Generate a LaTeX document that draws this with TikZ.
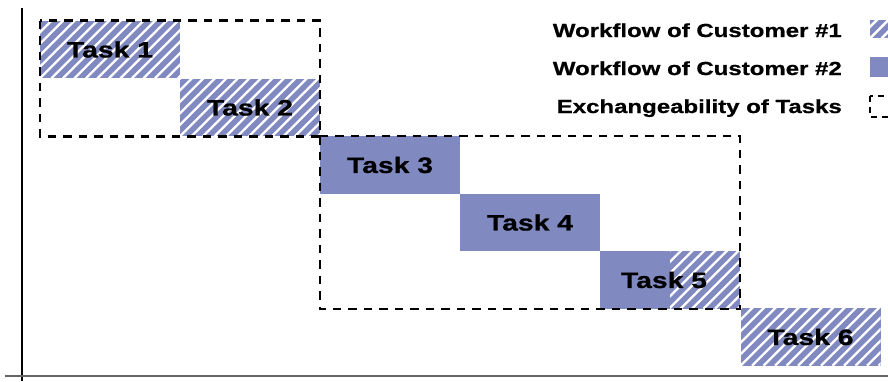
\documentclass[tikz,border=0pt]{standalone}
\usepackage{fontspec}
\setmainfont{Liberation Sans}[FakeStretch=1.27,BoldFeatures={FakeBold=0.8}]
\definecolor{taskblue}{RGB}{129,138,192}
\definecolor{axisgray}{RGB}{100,100,100}
% white diagonal stripes over the current path
\newcommand\stripesover{%
  \foreach \k in {-92,-80.5,...,160}{%
    \draw[white,line width=2.4pt]
      ([xshift=\k pt]path picture bounding box.south west) -- ++(90pt,90pt);}}
\tikzset{
  labelfont/.style={font=\bfseries\fontsize{22.3}{26}\selectfont},
  taskbox/.style={rectangle,minimum width=140pt,minimum height=57.5pt,
    inner sep=0pt,fill=taskblue,labelfont},
  hatched/.style={taskbox,path picture={\stripesover}},
  halfhatched/.style={taskbox,path picture={%
    \begin{scope}
      \clip (path picture bounding box.north) rectangle
            (path picture bounding box.south east);
      \stripesover
    \end{scope}}},
  dashbox/.style={draw=black,line width=2.2pt,dash pattern=on 8.5pt off 7pt},
  legendtext/.style={anchor=base east,inner sep=0pt,
    font=\bfseries\fontsize{18.9}{22}\selectfont},
}
\begin{document}
\begin{tikzpicture}[x=1pt,y=-1pt]
  \useasboundingbox (0,0) rectangle (888,381);

  % axes
  \draw[black,line width=1.4pt] (22,8) coordinate (ytop) -- (22,381) coordinate (ybot);
  \draw[axisgray,line width=2pt] (5,376) coordinate (xl) -- (888,376) coordinate (xr);

  % tasks
  \node[hatched]     (t1) at (110,49.5)  {Task 1};
  \node[hatched]     (t2) at (250,107.5) {Task 2};
  \node[taskbox]     (t3) at (390,165)   {Task 3};
  \node[taskbox]     (t4) at (530,222.5) {Task 4};
  \node[halfhatched] (t5) at (670,280)   {};
  \node[labelfont] at ([xshift=-6pt]t5.center) {Task 5};
  \node[hatched]     (t6) at (810.5,337) {Task 6};

  % exchangeable groups
  \draw[dashbox] (t1.north west) rectangle (t2.south east);
  \draw[dashbox] (t3.north west) rectangle (t5.south east);

  % legend
  \node[legendtext] (l1) at (842,37)  {Workflow of Customer \#1};
  \node[legendtext] (l2) at (842,75)  {Workflow of Customer \#2};
  \node[legendtext] (l3) at (842,113) {Exchangeability of Tasks};
  \begin{scope}
    \clip (860,0) rectangle (888,130);
    \node[hatched,minimum width=20pt,minimum height=18pt,anchor=north west]
      (k1) at (870,20) {};
    \node[taskbox,minimum width=20pt,minimum height=20pt,anchor=north west]
      (k2) at (870,57) {};
    \draw[black,line width=1.4pt,dash pattern=on 6pt off 5pt]
      (870,96) rectangle (900,117);
  \end{scope}
\end{tikzpicture}
\end{document}
